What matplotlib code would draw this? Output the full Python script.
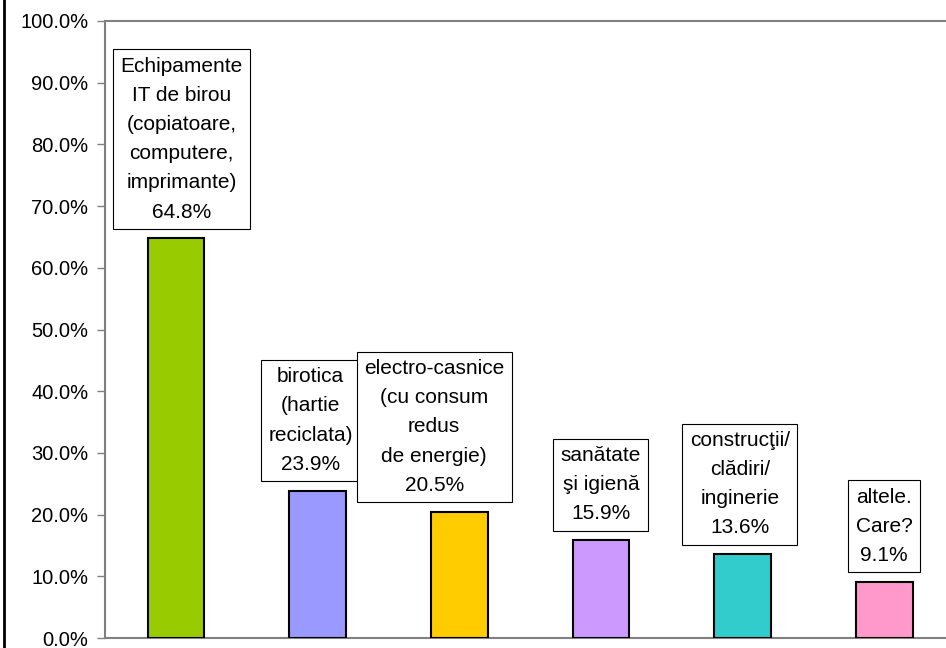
import numpy as np
import matplotlib
matplotlib.use("Agg")
import matplotlib.pyplot as plt
from matplotlib.lines import Line2D
from matplotlib.ticker import FuncFormatter

# data
categories = ["Echipamente\nIT de birou\n(copiatoare,\ncomputere,\nimprimante)",
              "birotica\n(hartie\nreciclata)",
              "electro-casnice\n(cu consum\nredus\nde energie)",
              "sanătate\nşi igienă",
              "construcţii/\nclădiri/\ninginerie",
              "altele.\nCare?"]
values = [0.648, 0.239, 0.205, 0.159, 0.136, 0.091]
colors = ["#99CC00", "#9999FF", "#FFCC00", "#CC99FF", "#33CCCC", "#FF99CC"]
label_dx = [4, -5, -18, 0, -2, 0]   # label box nudges in points

plt.rcParams['font.family'] = ['Liberation Sans', 'DejaVu Sans']

fig = plt.figure(figsize=(9.46, 6.48), dpi=100)
ax = fig.add_axes([105/946, 10/648, 850/946, 617/648])

x = np.arange(len(values))
ax.bar(x, values, width=0.4, color=colors, edgecolor="black", linewidth=1.5, zorder=3)

ax.set_xlim(-0.5, len(values) - 0.5)
ax.set_ylim(0, 1.0)
ax.set_yticks(np.arange(0, 1.01, 0.1))
ax.yaxis.set_major_formatter(FuncFormatter(lambda v, p: f"{v*100:.1f}%"))
ax.tick_params(axis="y", direction="out", length=6, width=1, color="#808080",
               labelsize=14.5, pad=6)
ax.set_xticks([])

for s in ["left", "bottom", "top"]:
    ax.spines[s].set_color("#808080")
    ax.spines[s].set_linewidth(1.5)
ax.spines["right"].set_visible(False)

for xi, v, cat, dx in zip(x, values, categories, label_dx):
    ax.annotate(f"{cat}\n{v*100:.1f}%", xy=(xi, v), xytext=(dx, 12),
                textcoords="offset points", ha="center", va="bottom",
                multialignment="center", fontsize=15, linespacing=1.68,
                bbox=dict(boxstyle="square,pad=0.35", fc="white", ec="black", lw=0.8),
                zorder=4)

# outer frame line on the left
fig.add_artist(Line2D([3.5/946, 3.5/946], [0, 1], color="black", lw=2,
                      transform=fig.transFigure))

fig.savefig("out.png", dpi=100)
